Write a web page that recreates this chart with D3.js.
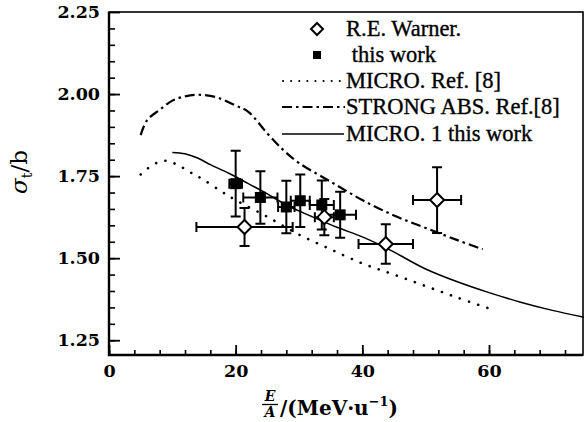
<!DOCTYPE html>
<html>
<head>
  <title>sigma_t vs E/A</title>
  <meta charset="utf-8">
  <script src="https://d3js.org/d3.v7.min.js"></script>
  <style>
    body { margin: 0; background: #fff; }
    .tick text { font-family: "DejaVu Serif", serif; font-weight: bold; font-size: 17.5px; fill: #000; }
    .legend text { font-family: "Liberation Serif", "Times New Roman", serif; font-size: 22.5px; stroke: #000; stroke-width: 0.35px; }
  </style>
</head>
<body>
<script>
  // R.E. Warner data
  var warnerE   = [21.4, 34.0, 43.7, 51.8];
  var warnerSig = [1.595, 1.625, 1.543, 1.677];
  var warnerDE  = [7.6, 1.5, 4.3, 3.8];
  var warnerDS  = [0.058, 0.055, 0.06, 0.1];

  // this work
  var workE   = [20.0, 23.9, 28.0, 30.2, 33.6, 36.5];
  var workSig = [1.727, 1.685, 1.656, 1.675, 1.662, 1.632];
  var workDE  = [1.0, 2.7, 1.3, 1.5, 1.9, 2.5];
  var workDS  = [0.1, 0.08, 0.08, 0.08, 0.075, 0.07];

  // MICRO. Ref.[8]
  var microRefE   = [5, 7, 9, 11, 13, 15, 18, 20, 25, 30, 35, 40, 45, 50, 55, 60];
  var microRefSig = [1.755, 1.785, 1.797, 1.782, 1.76, 1.738, 1.70, 1.677, 1.626, 1.572, 1.527, 1.484, 1.450, 1.415, 1.380, 1.347];

  // STRONG ABS. Ref.[8]
  var strongE   = [5, 6, 8, 10, 12, 14, 17, 20, 22, 25, 27.5, 30, 35, 40, 45, 50, 55, 59];
  var strongSig = [1.875, 1.92, 1.952, 1.98, 1.993, 1.998, 1.99, 1.965, 1.946, 1.88, 1.83, 1.79, 1.733, 1.677, 1.630, 1.592, 1.555, 1.527];

  // MICRO. 1 this work
  var microE   = [10, 12, 14, 16, 19, 22, 25, 28, 32, 36, 40, 44, 50, 55, 60, 65, 70, 75];
  var microSig = [1.822, 1.818, 1.805, 1.785, 1.758, 1.727, 1.696, 1.662, 1.627, 1.594, 1.565, 1.529, 1.467, 1.428, 1.395, 1.366, 1.341, 1.32];

  var xMajor = [0, 20, 40, 60],
      yMajor = [1.25, 1.5, 1.75, 2.0, 2.25];

  var legendLabels = ["R.E. Warner.", " this work", "MICRO. Ref. [8]", "STRONG ABS. Ref.[8]", "MICRO. 1 this work"];

  var width = 587, height = 422;
  var margin = {top: 12, right: 3, bottom: 67, left: 109};

  var svg = d3.select("body").append("svg")
    .attr("width", width)
    .attr("height", height);

  var x = d3.scaleLinear()
    .domain([0, 75])
    .range([margin.left, width - margin.right]);

  var y = d3.scaleLinear()
    .domain([1.205, 2.25])
    .range([height - margin.bottom, margin.top]);

  var fmt = d3.format(".2f");

  // minor ticks
  svg.append("g")
    .attr("transform", `translate(0,${y.range()[0]})`)
    .call(d3.axisBottom(x).tickValues(d3.range(0, 75, 4)).tickSize(-5).tickFormat(""))
    .call(g => g.select(".domain").remove())
    .call(g => g.selectAll(".tick line").attr("stroke-width", 1.6));

  svg.append("g")
    .attr("transform", `translate(${margin.left},0)`)
    .call(d3.axisLeft(y).tickValues(d3.range(1.25, 2.25, 0.05)).tickSize(-6).tickFormat(""))
    .call(g => g.select(".domain").remove())
    .call(g => g.selectAll(".tick line").attr("stroke-width", 1.6));

  // major ticks + labels
  svg.append("g")
    .attr("transform", `translate(0,${y.range()[0]})`)
    .call(d3.axisBottom(x).tickValues(xMajor).tickSize(-10).tickPadding(10).tickFormat(d3.format("d")))
    .call(g => g.select(".domain").remove())
    .call(g => g.selectAll(".tick line").attr("stroke-width", 1.8));

  svg.append("g")
    .attr("transform", `translate(${margin.left},0)`)
    .call(d3.axisLeft(y).tickValues(yMajor).tickSize(-11).tickPadding(9).tickFormat(fmt))
    .call(g => g.select(".domain").remove())
    .call(g => g.selectAll(".tick line").attr("stroke-width", 1.8));

  // frame
  svg.append("rect")
    .attr("x", x(0)).attr("y", y(2.25))
    .attr("width", x(75) - x(0) - 1).attr("height", y.range()[0] - y(2.25))
    .attr("fill", "none").attr("stroke", "#000").attr("stroke-width", 1.6);
  svg.append("path")
    .attr("d", `M${x(0)},${y(2.25)}V${y.range()[0]}H${x(75) - 1}`)
    .attr("fill", "none").attr("stroke", "#000").attr("stroke-width", 2.4);

  // curves
  var line = d3.line().curve(d3.curveCatmullRom).x(d => x(d[0])).y(d => y(d[1]));

  svg.append("path")
    .datum(d3.zip(microRefE, microRefSig))
    .attr("d", line)
    .attr("fill", "none").attr("stroke", "#000").attr("stroke-width", 2.6)
    .attr("stroke-linecap", "round").attr("stroke-dasharray", "0.1,9.5");

  svg.append("path")
    .datum(d3.zip(strongE, strongSig))
    .attr("d", line)
    .attr("fill", "none").attr("stroke", "#000").attr("stroke-width", 2.2)
    .attr("stroke-dasharray", "10,4,2.5,4");

  svg.append("path")
    .datum(d3.zip(microE, microSig))
    .attr("d", line)
    .attr("fill", "none").attr("stroke", "#000").attr("stroke-width", 1.5);

  // error bars
  function errorBars(E, S, dE, dS) {
    var g = svg.append("g").attr("stroke", "#000").attr("stroke-width", 2);
    var data = d3.range(E.length);
    var cap = 5;
    g.selectAll(".v").data(data).join("path")
      .attr("d", i => `M${x(E[i])},${y(S[i] + dS[i])}V${y(S[i] - dS[i])}` +
        `M${x(E[i]) - cap},${y(S[i] + dS[i])}h${2 * cap}M${x(E[i]) - cap},${y(S[i] - dS[i])}h${2 * cap}`);
    g.selectAll(".h").data(data).join("path")
      .attr("d", i => `M${x(E[i] - dE[i])},${y(S[i])}H${x(E[i] + dE[i])}` +
        `M${x(E[i] - dE[i])},${y(S[i]) - cap}v${2 * cap}M${x(E[i] + dE[i])},${y(S[i]) - cap}v${2 * cap}`);
  }

  errorBars(warnerE, warnerSig, warnerDE, warnerDS);
  errorBars(workE, workSig, workDE, workDS);

  var diamond = r => `M0,${-r}L${r},0L0,${r}L${-r},0Z`;

  svg.append("g")
    .selectAll("path")
    .data(d3.range(warnerE.length))
    .join("path")
      .attr("transform", i => `translate(${x(warnerE[i])},${y(warnerSig[i])})`)
      .attr("d", diamond(7))
      .attr("fill", "#fff").attr("stroke", "#000").attr("stroke-width", 2);

  svg.append("g")
    .selectAll("rect")
    .data(d3.range(workE.length))
    .join("rect")
      .attr("x", i => x(workE[i]) - 5.5)
      .attr("y", i => y(workSig[i]) - 5.5)
      .attr("width", 11).attr("height", 11)
      .attr("fill", "#000");

  // legend
  var legend = svg.append("g").attr("class", "legend");
  var rowY = [29, 55, 81, 107, 134];

  legend.append("path")
    .attr("transform", `translate(317,${rowY[0]})`)
    .attr("d", diamond(6))
    .attr("fill", "#fff").attr("stroke", "#000").attr("stroke-width", 2);
  legend.append("rect")
    .attr("x", 313).attr("y", rowY[1] - 4).attr("width", 8).attr("height", 8).attr("fill", "#000");
  legend.append("line")
    .attr("x1", 283).attr("x2", 341).attr("y1", rowY[2]).attr("y2", rowY[2])
    .attr("stroke", "#000").attr("stroke-width", 2).attr("stroke-linecap", "round").attr("stroke-dasharray", "0.1,8");
  legend.append("line")
    .attr("x1", 282).attr("x2", 345).attr("y1", rowY[3]).attr("y2", rowY[3])
    .attr("stroke", "#000").attr("stroke-width", 2).attr("stroke-dasharray", "10,4,2.5,4");
  legend.append("line")
    .attr("x1", 282).attr("x2", 344).attr("y1", rowY[4]).attr("y2", rowY[4])
    .attr("stroke", "#000").attr("stroke-width", 1.5);

  legend.selectAll("text")
    .data(legendLabels)
    .join("text")
      .attr("x", 346)
      .attr("y", (d, i) => rowY[i] + 7)
      .attr("xml:space", "preserve")
      .style("white-space", "pre")
      .text(d => d);

  // y title
  var yt = svg.append("text")
    .attr("transform", "translate(27,172) rotate(-90)")
    .attr("text-anchor", "middle")
    .style("font-family", "'DejaVu Serif', serif")
    .style("font-size", "23px");
  yt.append("tspan").style("font-style", "italic").text("σ");
  yt.append("tspan").attr("dy", 5).style("font-size", "14px").text("t");
  yt.append("tspan").attr("dy", -5).text("/b");

  // x title: E/A fraction + unit
  var xt = svg.append("g")
    .style("font-family", "'DejaVu Serif', serif")
    .style("font-weight", "bold");
  xt.append("text").attr("x", 270).attr("y", 401).attr("text-anchor", "middle")
    .style("font-style", "italic").style("font-size", "14px").text("E");
  xt.append("line").attr("x1", 262).attr("x2", 278).attr("y1", 404.5).attr("y2", 404.5)
    .attr("stroke", "#000").attr("stroke-width", 1.3);
  xt.append("text").attr("x", 270).attr("y", 417).attr("text-anchor", "middle")
    .style("font-style", "italic").style("font-size", "14px").text("A");
  var unit = xt.append("text").attr("x", 280).attr("y", 415).style("font-size", "20px");
  unit.append("tspan").text("/(MeV·u");
  unit.append("tspan").attr("dy", -9).style("font-size", "13px").text("−1");
  unit.append("tspan").attr("dy", 9).text(")");
</script>
</body>
</html>
